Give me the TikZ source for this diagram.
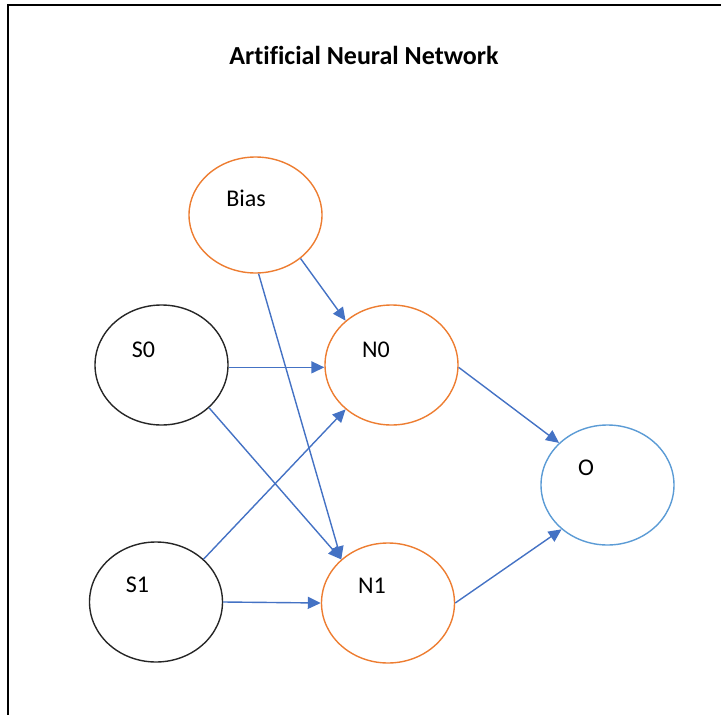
\documentclass[tikz,border=0pt]{standalone}
\usepackage{fontspec}
\setmainfont{Carlito}[Ligatures=NoCommon]
\usepackage{xcolor}
\usepackage{tikz}
\usetikzlibrary{shapes.geometric,arrows.meta}

\definecolor{neurorange}{HTML}{ED7D31}
\definecolor{outblue}{HTML}{5B9BD5}
\definecolor{edgeblue}{HTML}{4472C4}

\begin{document}
\begin{tikzpicture}[x=1pt, y=-1pt,
    unit/.style={ellipse, draw, line width=1.4pt, minimum width=133pt, minimum height=120pt, inner sep=0pt},
    lbl/.style={font=\fontsize{24}{28}\selectfont, inner sep=0pt},
    syn/.style={draw=edgeblue, line width=1.4pt, -{Triangle[length=13pt,width=12pt]}}]
            \useasboundingbox (0,0) rectangle (721,715);
            % Frame
            \draw[line width=2.5pt] (8,715) -- (8,5) -- (721,5);
            \node[font=\bfseries\fontsize{26}{30}\selectfont] (title) at (364,55) {Artificial Neural Network};

            % Nodes
            \node[unit, draw=neurorange, minimum height=116pt, label={[lbl, xshift=-9.5pt, yshift=16.5pt]center:Bias}] (bias) at (255.5,215) {};
            \node[unit, draw=black!85, label={[lbl, xshift=-18pt, yshift=15.5pt]center:S0}] (s0) at (161.5,365) {};
            \node[unit, draw=black!85, label={[lbl, xshift=-18.5pt, yshift=17.5pt]center:S1}] (s1) at (156,602) {};
            \node[unit, draw=neurorange, label={[lbl, xshift=-15.5pt, yshift=15.5pt]center:N0}] (n0) at (391.5,365) {};
            \node[unit, draw=neurorange, label={[lbl, xshift=-16pt, yshift=17pt]center:N1}] (n1) at (388,603) {};
            \node[unit, draw=outblue, label={[lbl, xshift=-21.5pt, yshift=17.5pt]center:O}] (o) at (607.5,485) {};

            % Edges
            \draw[syn] (bias.-44) -- (n0.136);
            \draw[syn] (bias.-87) -- (n1.137);
            \draw[syn] (s0.-2) -- (n0.-178);
            \draw[syn] (s0.-42) -- (n1.137);
            \draw[syn] (s1.42) -- (n0.-136);
            \draw[syn] (s1.east) -- (n1.west);
            \draw[syn] (n0.-2) -- (o.139);
            \draw[syn] (n1.east) -- (o.-136);
        \end{tikzpicture}
\end{document}
